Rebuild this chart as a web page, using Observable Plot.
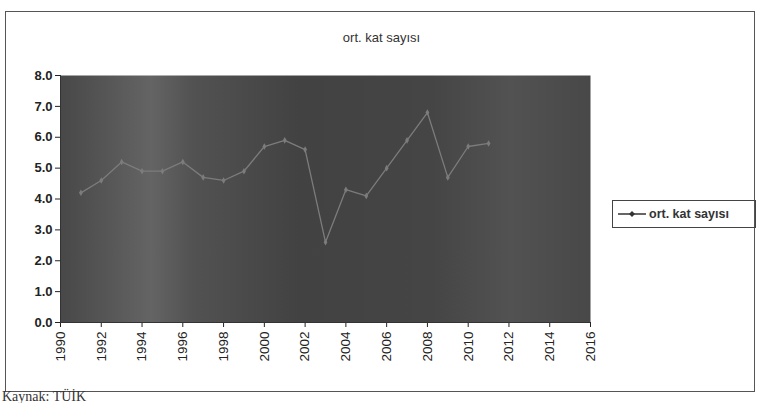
<!DOCTYPE html>
<html><head><meta charset="utf-8">
<script src="https://cdn.jsdelivr.net/npm/d3@7"></script>
<script src="https://cdn.jsdelivr.net/npm/@observablehq/plot@0.6"></script>
<style>
body{margin:0;background:#fff;font-family:"Liberation Sans",Arial,sans-serif;}
#wrap{position:relative;width:763px;height:403px;overflow:hidden;}
#border{position:absolute;left:5px;top:11px;width:750px;height:381px;border:1.5px solid #555;box-sizing:border-box;}
#title{position:absolute;left:0;width:763px;top:30px;text-align:center;font-size:13px;color:#333;}
#legend{position:absolute;left:612px;top:200px;width:144px;height:28px;border:1.5px solid #444;box-sizing:border-box;font-size:12.5px;font-weight:bold;color:#333;display:flex;align-items:center;padding-left:4px;}
#caption{position:absolute;left:2px;top:389px;font-family:"Liberation Serif",serif;font-size:14px;color:#333;}
#chart{position:absolute;left:0;top:0;}
</style></head>
<body>
<div id="wrap">
<div id="border"></div>
<div id="chart"></div>
<div id="title">ort. kat sayısı</div>
<div id="legend"><svg width="30" height="10"><line x1="1" y1="5" x2="29" y2="5" stroke="#333" stroke-width="1.5"/><path d="M15,2 L18,5 L15,8 L12,5 Z" fill="#333"/></svg><span style="margin-left:2px">ort. kat sayısı</span></div>
<div id="caption">Kaynak: TÜİK</div>
</div>
<script>
const seriesName = "ort. kat sayısı";
const years = [1991,1992,1993,1994,1995,1996,1997,1998,1999,2000,2001,2002,2003,2004,2005,2006,2007,2008,2009,2010,2011];
const values = [4.2,4.6,5.2,4.9,4.9,5.2,4.7,4.6,4.9,5.7,5.9,5.6,2.6,4.3,4.1,5.0,5.9,6.8,4.7,5.7,5.8];
const xTicks = [1990,1992,1994,1996,1998,2000,2002,2004,2006,2008,2010,2012,2014,2016];
const yTicks = [0,1,2,3,4,5,6,7,8];

const data = years.map((y,i)=>({year:y,value:values[i]}));

const chart = Plot.plot({
  width: 763, height: 386,
  marginLeft: 60, marginRight: 173, marginTop: 75, marginBottom: 64,
  style: {fontFamily: '"Liberation Sans", Arial, sans-serif', fontSize: "13px", color: "#222", background: "transparent"},
  x: {domain: [1990, 2016], ticks: xTicks, tickFormat: d => String(d), tickRotate: -90, label: null, tickSize: 5},
  y: {domain: [0, 8], ticks: yTicks, tickFormat: d => d.toFixed(1), label: null, tickSize: 5},
  marks: [
    Plot.frame({fill: "url(#bgGrad)", stroke: "none"}),
    Plot.axisY({ticks: yTicks, tickFormat: d => d.toFixed(1), label: null, tickSize: 5, fontWeight: "bold", fontSize: 13, tickPadding: 3}),
    Plot.axisX({ticks: xTicks, tickFormat: d => String(d), tickRotate: -90, label: null, tickSize: 5, fontSize: 13.5}),
    Plot.ruleX([1990], {stroke: "#333"}),
    Plot.ruleY([0], {stroke: "#333"}),
    Plot.line(data, {x: "year", y: "value", stroke: "#7c7c7c", strokeWidth: 1.3}),
    Plot.dot(data, {x: "year", y: "value", symbol: "diamond", r: 2, fill: "#7c7c7c"})
  ]
});
const ns = "http://www.w3.org/2000/svg";
const defs = document.createElementNS(ns, "defs");
defs.innerHTML = `<linearGradient id="bgGrad" x1="0" y1="0" x2="1" y2="0">
<stop offset="0" stop-color="#484848"/>
<stop offset="0.1" stop-color="#585858"/>
<stop offset="0.17" stop-color="#646464"/>
<stop offset="0.25" stop-color="#525252"/>
<stop offset="0.45" stop-color="#424242"/>
<stop offset="0.7" stop-color="#454545"/>
<stop offset="0.85" stop-color="#525252"/>
<stop offset="1" stop-color="#484848"/>
</linearGradient>`;
chart.insertBefore(defs, chart.firstChild);
document.getElementById("chart").appendChild(chart);
</script>
</body></html>
